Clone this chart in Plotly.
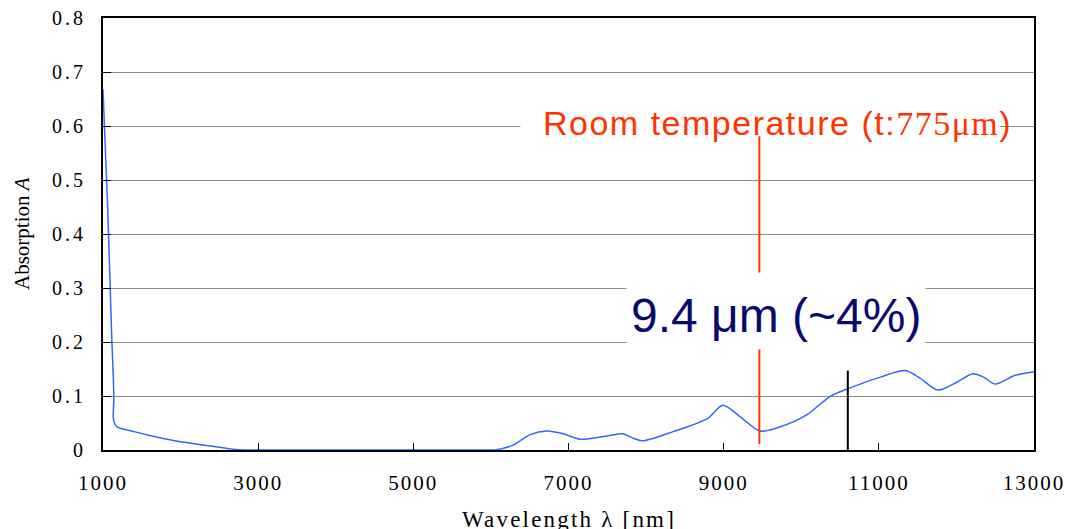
import plotly.graph_objects as go

# Absorption spectrum (room temperature, thickness 775 um)
wavelength_nm = [1000, 1060, 1110, 1140, 1132, 1150, 1180, 1400, 1600, 1860, 2200, 2500, 2750, 3000,
                 4000, 5000, 6000, 6050, 6285, 6500, 6720, 6930, 7150, 7500, 7700, 7830, 7950,
                 8350, 8790, 8990, 9210, 9470, 9730, 10070, 10370, 10630, 11020, 11340, 11530,
                 11760, 12000, 12210, 12350, 12500, 12750, 13000]
absorption = [0.668, 0.45, 0.22, 0.095, 0.06, 0.049, 0.043, 0.034, 0.027, 0.019, 0.011, 0.005, 0.0005, 0.0,
              0.0, 0.0, 0.0, 0.0, 0.009, 0.028, 0.035, 0.030, 0.020, 0.026, 0.030, 0.022, 0.017,
              0.034, 0.058, 0.083, 0.062, 0.035, 0.043, 0.065, 0.099, 0.115, 0.135, 0.147, 0.133,
              0.111, 0.125, 0.141, 0.135, 0.122, 0.138, 0.145]

x_ticks = [1000, 3000, 5000, 7000, 9000, 11000, 13000]
y_ticks = [0, 0.1, 0.2, 0.3, 0.4, 0.5, 0.6, 0.7, 0.8]

marker_wavelength = 9460      # 9.4 um marker
marker_upper = [0.3285, 0.581]
marker_lower = [0.011, 0.186]
laser_wavelength = 10600      # 10.6 um line
laser_height = 0.147

RED = "#FF3300"
NAVY = "#0A0A6E"
BLUE = "#3366FF"
SERIF = "Liberation Serif"
SANS = "Liberation Sans"


def spaced(text, px):
    """Wrap text in a span with extra letter spacing."""
    return f"<span style='letter-spacing:{px}px'>{text}</span>"


fig = go.Figure()
fig.add_trace(go.Scatter(
    x=wavelength_nm, y=absorption, mode="lines",
    line=dict(color=BLUE, width=1.5, shape="spline", smoothing=0.8),
    hoverinfo="skip", showlegend=False, cliponaxis=False,
))

# white backing behind the "Room temperature" caption (hides the grid line)
fig.add_shape(type="rect", x0=6380, x1=12560, y0=0.575, y1=0.64,
              xref="x", yref="y", fillcolor="white", line=dict(width=0), layer="above")

# vertical markers
fig.add_shape(type="line", x0=marker_wavelength, x1=marker_wavelength,
              y0=marker_upper[0], y1=marker_upper[1], line=dict(color=RED, width=2))
fig.add_shape(type="line", x0=marker_wavelength, x1=marker_wavelength,
              y0=marker_lower[0], y1=marker_lower[1], line=dict(color=RED, width=2))
fig.add_shape(type="line", x0=laser_wavelength, x1=laser_wavelength,
              y0=0, y1=laser_height, line=dict(color="black", width=2))

fig.add_annotation(
    x=9690, y=0.606, xref="x", yref="y",
    text=spaced(f"Room temperature (t:<span style='font-family:{SERIF}'>775μm</span>)", 1.5),
    showarrow=False, font=dict(family=SANS, size=34, color=RED),
)
fig.add_annotation(
    x=9670, y=0.25, xref="x", yref="y",
    text="9.4 μm (~4%)",
    showarrow=False, font=dict(family=SANS, size=48, color=NAVY),
    bgcolor="white", borderpad=4,
)

# axis titles
fig.add_annotation(
    x=0.5, y=-0.128, xref="paper", yref="paper", xanchor="center", yanchor="top",
    text=spaced("Wavelength λ [nm]", 2.2), showarrow=False,
    font=dict(family=SERIF, size=23, color="black"),
)
fig.add_annotation(
    x=-0.087, y=0.5, xref="paper", yref="paper", xanchor="center", yanchor="middle",
    text="Absorption <i>A</i>", textangle=-90, showarrow=False,
    font=dict(family=SERIF, size=21, color="black"),
)

fig.update_xaxes(
    range=[1000, 13000], tickvals=x_ticks, ticktext=[spaced(str(v), 2) for v in x_ticks],
    showgrid=False, zeroline=False, automargin=False,
    showline=True, linecolor="black", linewidth=2, mirror=True,
    ticks="inside", ticklen=7, tickwidth=1, tickcolor="black",
    tickfont=dict(family=SERIF, size=21, color="black"), ticklabelstandoff=13,
)
fig.update_yaxes(
    range=[0, 0.8], tickvals=y_ticks, ticktext=[spaced(f"{v:g}", 3) for v in y_ticks],
    showgrid=True, gridcolor="#8C8C8C", gridwidth=1, zeroline=False, automargin=False,
    showline=True, linecolor="black", linewidth=2, mirror=True,
    ticks="inside", ticklen=8, tickwidth=1, tickcolor="black",
    tickfont=dict(family=SERIF, size=20, color="black"), ticklabelstandoff=11,
)

fig.update_layout(
    width=1072, height=529,
    margin=dict(l=103, r=38, t=18, b=79),
    paper_bgcolor="white", plot_bgcolor="white",
    showlegend=False,
)

fig.write_html("out.html")
